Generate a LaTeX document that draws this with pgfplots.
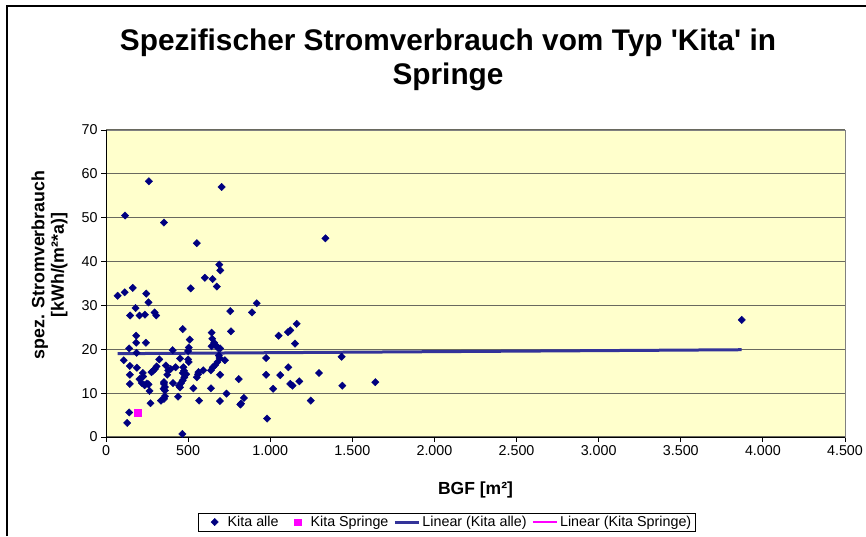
\documentclass[border=0pt]{standalone}
\usepackage{fontspec}
\setmainfont{Liberation Sans}
\usepackage{pgfplots}
\pgfplotsset{compat=1.18}
\definecolor{plotbg}{RGB}{255,255,204}
\definecolor{navy}{RGB}{0,0,128}
\definecolor{trend}{RGB}{51,51,153}
\definecolor{mag}{RGB}{255,0,255}
\definecolor{gridc}{RGB}{105,105,95}
\pgfplotsset{
  legline/.style={legend image code/.code={\draw[##1] (0pt,0pt) -- (24pt,0pt);}},
  legmark/.style={legend image code/.code={\path[draw=none,fill=none] (-14pt,0pt) -- (11pt,0pt); \draw[##1] plot coordinates {(0pt,0pt)};}},
}
\begin{document}
\begin{tikzpicture}
\useasboundingbox (0pt,0pt) rectangle (866pt,536pt);
\fill[white] (0pt,0pt) rectangle (866pt,536pt);
\draw[black, line width=1.2pt] (7pt,0pt) -- (7pt,530pt) -- (866pt,530pt);
\node[anchor=base, font=\fontsize{29.8}{32}\selectfont\bfseries] at (448pt,485pt) {Spezifischer Stromverbrauch vom Typ \textquotesingle Kita\textquotesingle{} in};
\node[anchor=base, font=\fontsize{29.8}{32}\selectfont\bfseries] at (448pt,451pt) {Springe};
\begin{axis}[
  at={(106pt,99pt)}, anchor=south west,
  width=739pt, height=307pt, scale only axis,
  xmin=0, xmax=4500, ymin=0, ymax=70,
  xtick={0,500,...,4500}, ytick={0,10,...,70},
  axis background/.style={fill=plotbg},
  ymajorgrids, major grid style={gridc, line width=1.1pt},
  axis line style={gray, line width=1pt},
  tick align=outside, major tick length=5pt,
  tick style={black, line width=0.8pt},
  xtick pos=bottom, ytick pos=left,
  ticklabel style={font=\fontsize{14.3}{14.3}\selectfont},
  /pgf/number format/assume math mode=true,
  /pgf/number format/1000 sep={.},
  scaled x ticks=false,
  xlabel={BGF [m²]},
  xlabel style={at={(axis description cs:0.5,0)}, anchor=base, yshift=-57pt, font=\fontsize{17.5}{20}\selectfont\bfseries},
  ylabel={spez. Stromverbrauch\\{[kWh/(m²*a)]}},
  ylabel style={at={(axis description cs:-0.0765,0.56)}, anchor=center, align=center, font=\fontsize{17.8}{19.5}\selectfont\bfseries},
  legend style={at={(axis description cs:0.4614,-0.2769)}, anchor=center, draw=black, fill=white, font=\fontsize{14.3}{14.3}\selectfont, inner xsep=2pt, inner ysep=1pt, /tikz/every even column/.append style={column sep=3pt}},
  legend columns=4, legend cell align=left,
]
\addplot[legmark, only marks, mark=square*, mark size=2.6pt, mark options={rotate=45, fill=navy, draw=navy}] coordinates {
(261,58.3) (704,57.0) (116,50.5) (353,48.9) (553,44.2) (690,39.3) (696,38.0) (602,36.3) (649,36.0) (675,34.3)
(516,33.9) (71,32.2) (114,33.0) (163,34.0) (245,32.7) (259,30.7) (180,29.4) (147,27.7) (204,27.7) (237,27.9)
(296,28.4) (306,27.7) (757,28.7) (889,28.4) (918,30.5) (467,24.6) (761,24.1) (643,23.8) (1051,23.1) (1108,23.9)
(1122,24.3) (1161,25.8) (1151,21.3) (184,23.1) (184,21.5) (243,21.5) (141,20.2) (186,19.2) (510,22.2) (504,20.4)
(500,19.6) (406,19.8) (647,22.4) (659,21.5) (671,20.8) (643,20.7) (683,20.3) (695,20.2) (687,18.6) (692,18.0)
(724,17.5) (108,17.5) (145,16.2) (188,15.8) (324,17.7) (451,17.9) (500,17.7) (504,17.1) (365,16.3) (394,15.5)
(424,15.9) (308,16.1) (298,15.5) (287,15.1) (277,14.8) (471,15.9) (475,15.1) (488,14.3) (468,14.6) (373,14.2)
(379,15.2) (145,14.2) (224,14.6) (226,13.8) (204,13.2) (218,12.3) (145,12.1) (235,11.8) (259,12.0) (249,12.2)
(265,10.5) (353,12.5) (359,11.4) (353,12.1) (350,11.0) (359,10.6) (408,12.3) (445,11.7) (457,12.3) (467,12.9)
(477,13.6) (451,11.3) (532,11.1) (553,13.6) (561,14.3) (563,14.8) (592,15.2) (639,15.2) (651,15.9) (665,16.4)
(679,17.1) (695,14.2) (639,11.1) (808,13.2) (734,9.9) (694,8.2) (567,8.3) (439,9.2) (359,9.3) (353,8.7)
(335,8.3) (271,7.7) (141,5.6) (129,3.2) (465,0.7) (818,7.4) (840,8.9) (822,7.6) (975,18.0) (975,14.2)
(1061,14.1) (1018,11.0) (981,4.2) (1110,15.9) (1122,12.1) (1136,11.7) (1177,12.7) (1336,45.3) (1435,18.3) (1297,14.6)
(1439,11.7) (1640,12.5) (1247,8.3) (3871,26.7)
};
\addlegendentry{Kita alle}
\addplot[legmark, only marks, mark=square*, mark size=3.3pt, mark options={fill=mag, draw=mag}] coordinates {(194,5.6)};
\addlegendentry{Kita Springe}
\addplot[legline, trend, line width=3pt, no marks] coordinates {(71,19.0) (3871,19.9)};
\addlegendentry{Linear (Kita alle)}
\addlegendimage{legline, mag, line width=2.5pt}
\addlegendentry{Linear (Kita Springe)}
\draw[black, line width=1pt] (rel axis cs:0,1) -- (rel axis cs:0,0) -- (rel axis cs:1,0);
\end{axis}
\end{tikzpicture}
\end{document}
